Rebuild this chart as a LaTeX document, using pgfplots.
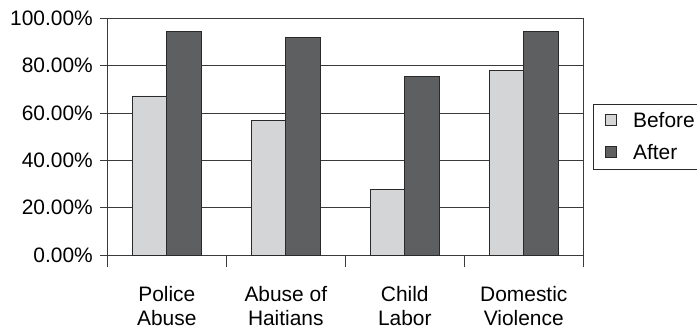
\documentclass[border=0pt]{standalone}
\usepackage{pgfplots}
\pgfplotsset{compat=1.18}
\usepackage{fontspec}
\setmainfont{Liberation Sans}
\definecolor{beforec}{HTML}{D4D5D7}
\definecolor{afterc}{HTML}{5E5F61}
\definecolor{edgec}{HTML}{2A2A2A}
\definecolor{gridc}{HTML}{3A3A3A}
\begin{document}
\begin{tikzpicture}
\useasboundingbox (0,0) rectangle (697bp,329bp);
\begin{axis}[
  at={(107.3bp,74bp)}, anchor=south west,
  scale only axis, width=476bp, height=236.7bp,
  xmin=-0.5, xmax=3.5, ymin=0, ymax=100,
  ybar=0pt, bar width=34.3bp,
  axis line style={draw=gridc, line width=0.9pt},
  xtick={0,1,2,3},
  xticklabels={{Police\\Abuse},{Abuse of\\Haitians},{Child\\Labor},{Domestic\\Violence}},
  minor xtick={-0.5,0.5,1.5,2.5,3.5},
  xtick pos=bottom, ytick pos=left,
  major x tick style={draw=none},
  minor x tick style={draw=gridc, line width=0.9pt},
  tick align=outside,
  minor tick length=12bp,
  major tick length=7bp,
  ytick={0,20,40,60,80,100},
  y tick style={draw=gridc, line width=0.9pt},
  ymajorgrids, major grid style={draw=gridc, line width=0.9pt},
  /pgf/number format/assume math mode=true,
  yticklabel={\pgfmathprintnumber[fixed,fixed zerofill,precision=2]{\tick}\%},
  tick label style={font=\fontsize{21}{24.5}\selectfont, text=black},
  xticklabel style={align=center, yshift=-20.5bp},
  yticklabel style={xshift=-4bp},
  legend style={at={(1,0.638)}, anchor=north west, xshift=10bp, draw=edgec, line width=0.8pt,
    font=\fontsize{21}{25}\selectfont, row sep=15bp, inner xsep=11bp, inner ysep=8bp,
    nodes={inner sep=0pt, text height=15bp, text depth=2bp}},
  legend image code/.code={\draw[#1, line width=0.8pt] (0bp,-4.85bp) rectangle (11bp,6.15bp); \path[draw=none,fill=none] (0bp,0bp) -- (28bp,0bp);},
  legend cell align=left,
]
\addplot[fill=beforec, draw=edgec, line width=0.8pt] coordinates {(0,67.2) (1,57.0) (2,27.6) (3,78.0)};
\addplot[fill=afterc, draw=edgec, line width=0.8pt] coordinates {(0,94.6) (1,91.8) (2,75.4) (3,94.6)};
\legend{Before, After}
\end{axis}
\end{tikzpicture}
\end{document}
